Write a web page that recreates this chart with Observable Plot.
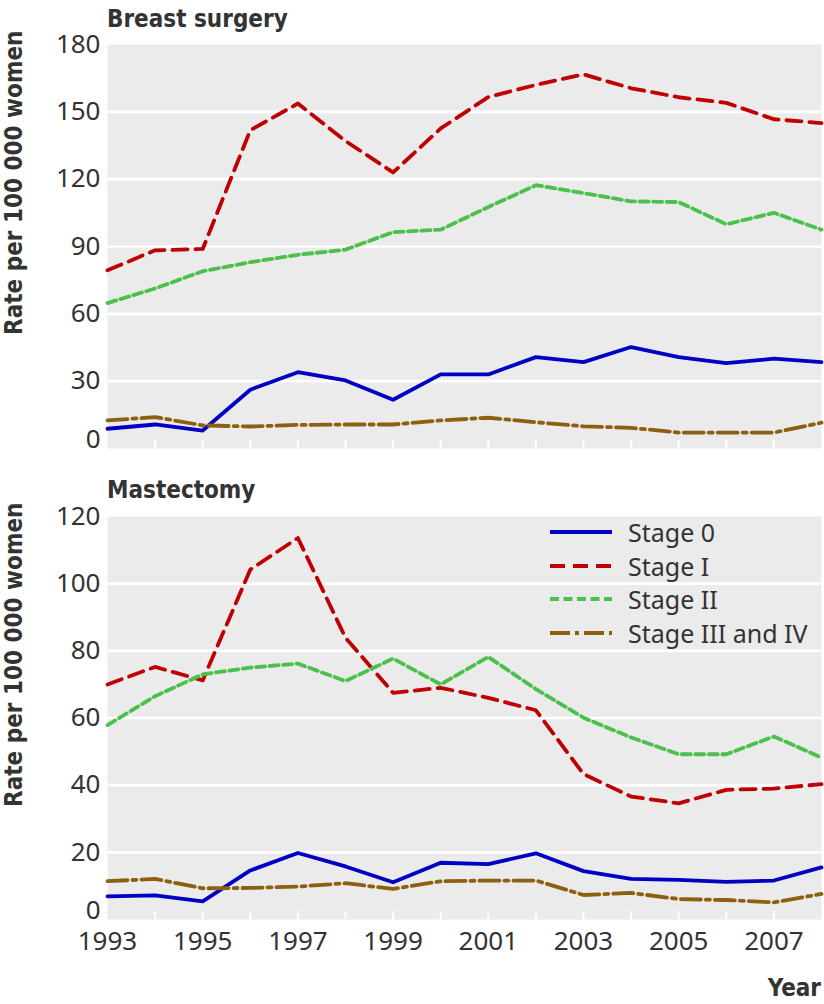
<!DOCTYPE html>
<html>
<head>
<meta charset="utf-8">
<script src="https://cdn.jsdelivr.net/npm/d3@7"></script>
<script src="https://cdn.jsdelivr.net/npm/@observablehq/plot@0.6"></script>
<style>
  body { margin: 0; background: #fff; }
  #root { position: relative; width: 824px; height: 1004px; overflow: hidden; font-family: "Noto Sans", sans-serif; color: #333; }
  .title { position: absolute; left: 107px; font: bold 24px/24px "DejaVu Sans Condensed", "DejaVu Sans", sans-serif; color: #333; white-space: nowrap; }
  .ylab { position: absolute; left: 2px; font: bold 24px/24px "DejaVu Sans Condensed", "DejaVu Sans", sans-serif; color: #333; white-space: nowrap; transform: rotate(-90deg); transform-origin: left top; }
  .xlab { position: absolute; right: 3px; font: bold 24px/24px "DejaVu Sans Condensed", "DejaVu Sans", sans-serif; color: #333; white-space: nowrap; }
  .plot { position: absolute; left: 0; }
  #legend { position: absolute; left: 550px; top: 515px; }
  #legend .row { display: flex; align-items: center; height: 33.7px; }
  #legend .row span { margin-left: 16px; font: 25px "Noto Sans", sans-serif; color: #333; white-space: nowrap; }
</style>
</head>
<body>
<div id="root"></div>
<script>
// ---- data ----
const years = [1993, 1994, 1995, 1996, 1997, 1998, 1999, 2000, 2001, 2002, 2003, 2004, 2005, 2006, 2007, 2008];
const stages = ["Stage 0", "Stage I", "Stage II", "Stage III and IV"];
const panelTitles = ["Breast surgery", "Mastectomy"];
const yAxisTitle = "Rate per 100 000 women";
const xAxisTitle = "Year";

// Breast surgery
const surgeryStage0 = [8.8, 10.7, 8.0, 26.2, 34.0, 30.3, 21.7, 33.0, 33.0, 40.7, 38.5, 45.2, 40.7, 38.0, 40.0, 38.5];
const surgeryStageI = [79.4, 88.3, 88.9, 141.8, 153.7, 137.0, 123.0, 142.6, 156.6, 162.0, 166.7, 160.5, 156.5, 154.0, 146.7, 145.0];
const surgeryStageII = [64.8, 71.3, 79.0, 83.0, 86.3, 88.6, 96.4, 97.5, 107.6, 117.3, 113.8, 110.1, 109.8, 99.9, 105.0, 97.5];
const surgeryStageIIIIV = [12.5, 14.0, 10.3, 9.8, 10.5, 10.7, 10.7, 12.5, 13.7, 11.7, 9.9, 9.2, 7.1, 7.1, 7.1, 11.5];

// Mastectomy
const mastStage0 = [6.9, 7.2, 5.4, 14.6, 19.8, 15.8, 11.1, 16.9, 16.5, 19.7, 14.4, 12.1, 11.8, 11.2, 11.6, 15.5];
const mastStageI = [70.0, 75.2, 71.2, 104.2, 113.6, 83.9, 67.5, 69.0, 66.0, 62.3, 43.3, 36.6, 34.6, 38.6, 39.0, 40.3];
const mastStageII = [57.9, 66.5, 73.0, 75.0, 76.2, 71.0, 77.7, 70.0, 78.2, 68.6, 60.1, 54.2, 49.2, 49.2, 54.5, 48.2];
const mastStageIIIIV = [11.4, 12.1, 9.3, 9.4, 9.8, 10.8, 9.1, 11.4, 11.6, 11.6, 7.3, 7.9, 6.1, 5.8, 5.1, 7.6];

// tick values
const surgeryYTicks = [0, 30, 60, 90, 120, 150, 180];
const mastYTicks = [0, 20, 40, 60, 80, 100, 120];
const xTickMarks = [1994, 1995, 1996, 1997, 1998, 1999, 2000, 2001, 2002, 2003, 2004, 2005, 2006, 2007];
const xTickLabels = [1993, 1995, 1997, 1999, 2001, 2003, 2005, 2007];

// ---- styles ----
const stageStyle = {
  "Stage 0": { stroke: "#0000c4", dash: null },
  "Stage I": { stroke: "#c00000", dash: "15 8" },
  "Stage II": { stroke: "#4cc04c", dash: "9 4.5" },
  "Stage III and IV": { stroke: "#8c6010", dash: "20 5 4 5" }
};

function toRows(seriesList) {
  const rows = [];
  seriesList.forEach((vals, i) => {
    vals.forEach((v, j) => rows.push({ year: years[j], value: v, stage: stages[i] }));
  });
  return rows;
}

const surgeryRows = toRows([surgeryStage0, surgeryStageI, surgeryStageII, surgeryStageIIIIV]);
const mastRows = toRows([mastStage0, mastStageI, mastStageII, mastStageIIIIV]);

function panel({ rows, yTicks, showX, height, marginBottom }) {
  const yMax = yTicks[yTicks.length - 1];
  const marginTop = 14;
  const frameH = height - marginTop - marginBottom;
  const tickLen = 8;
  return Plot.plot({
    width: 824,
    height,
    marginLeft: 107,
    marginRight: 3,
    marginTop,
    marginBottom,
    style: { fontFamily: "Noto Sans", fontSize: "26px", color: "#333", background: "transparent", overflow: "visible" },
    x: { domain: [1993, 2008], axis: null },
    y: { domain: [0, yMax], axis: null },
    marks: [
      Plot.frame({ fill: "#ebebeb", stroke: "none" }),
      Plot.gridY(yTicks.filter(t => t > 0 && t < yMax), { stroke: "white", strokeOpacity: 1, strokeWidth: 2.6 }),
      Plot.ruleX(xTickMarks, { x: d => d, stroke: "white", strokeWidth: 2, insetTop: frameH - tickLen }),
      Plot.axisY(yTicks.filter(t => t > 0), { tickSize: 0, tickPadding: 7, label: null, fill: "#333" }),
      Plot.axisY([0], { tickSize: 0, tickPadding: 7, label: null, fill: "#333", dy: -9 }),
      showX ? Plot.axisX(xTickLabels, { tickSize: 0, tickPadding: 12, label: null, fill: "#333", tickFormat: d => String(d) }) : null,
      ...stages.map(s => Plot.line(rows.filter(r => r.stage === s), {
        x: "year", y: "value",
        stroke: stageStyle[s].stroke,
        strokeWidth: 3.8,
        strokeDasharray: stageStyle[s].dash,
        strokeLinejoin: "round"
      }))
    ]
  });
}

const root = document.getElementById("root");

function addDiv(cls, text, css) {
  const d = document.createElement("div");
  d.className = cls;
  d.textContent = text;
  Object.assign(d.style, css);
  root.appendChild(d);
  return d;
}

// Panel 1
addDiv("title", panelTitles[0], { top: "7px" });
const p1 = panel({ rows: surgeryRows, yTicks: surgeryYTicks, showX: false, height: 422, marginBottom: 4 });
p1.classList.add("plot");
p1.style.top = "30px";
root.appendChild(p1);
addDiv("ylab", yAxisTitle, { top: "335px" });

// Panel 2
addDiv("title", panelTitles[1], { top: "478px" });
const p2 = panel({ rows: mastRows, yTicks: mastYTicks, showX: true, height: 462, marginBottom: 45 });
p2.classList.add("plot");
p2.style.top = "502px";
root.appendChild(p2);
addDiv("ylab", yAxisTitle, { top: "807px" });

addDiv("xlab", xAxisTitle, { top: "976px" });

// Legend
const legend = document.createElement("div");
legend.id = "legend";
stages.forEach(s => {
  const row = document.createElement("div");
  row.className = "row";
  const svg = d3.create("svg").attr("width", 62).attr("height", 12);
  svg.append("line")
    .attr("x1", 0).attr("x2", 62).attr("y1", 6).attr("y2", 6)
    .attr("stroke", stageStyle[s].stroke)
    .attr("stroke-width", 3.8)
    .attr("stroke-dasharray", stageStyle[s].dash);
  row.appendChild(svg.node());
  const t = document.createElement("span");
  t.textContent = s;
  row.appendChild(t);
  legend.appendChild(row);
});
root.appendChild(legend);
</script>
</body>
</html>
